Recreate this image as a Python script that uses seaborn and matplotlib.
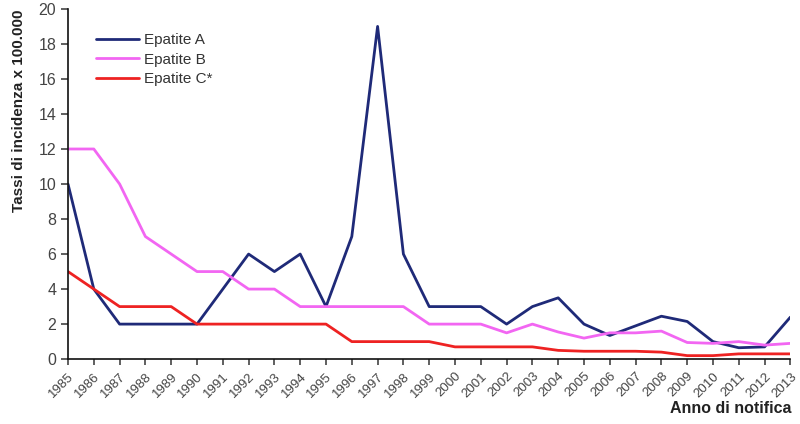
import matplotlib
matplotlib.use("Agg")
import matplotlib.pyplot as plt
import seaborn as sns
import pandas as pd

years = list(range(1985, 2014))
epatite_a = [10, 4, 2, 2, 2, 2, 4, 6, 5, 6, 3, 7, 19, 6, 3, 3, 3, 2, 3.0, 3.5,
             2, 1.35, 1.9, 2.45, 2.15, 1.0, 0.65, 0.7, 2.4]
epatite_b = [12, 12, 10, 7, 6, 5, 5, 4, 4, 3, 3, 3, 3, 3, 2, 2, 2, 1.5, 2.0, 1.55,
             1.2, 1.5, 1.5, 1.6, 0.95, 0.9, 1.0, 0.8, 0.9]
epatite_c = [5, 4, 3, 3, 3, 2, 2, 2, 2, 2, 2, 1, 1, 1, 1, 0.7, 0.7, 0.7, 0.7, 0.5,
             0.45, 0.45, 0.45, 0.4, 0.2, 0.2, 0.3, 0.3, 0.3]
series_names = ["Epatite A", "Epatite B", "Epatite C*"]
colors = ["#1f2a78", "#f266f2", "#ee2222"]

df = pd.DataFrame({
    "Anno": years * 3,
    "Tasso": epatite_a + epatite_b + epatite_c,
    "Serie": [series_names[0]] * len(years) + [series_names[1]] * len(years) + [series_names[2]] * len(years),
})

sns.set_style("ticks")
plt.rcParams["font.family"] = ["Liberation Sans", "DejaVu Sans"]

fig = plt.figure(figsize=(8, 4.24), dpi=100)
ax = fig.add_axes([0.085, 0.153, 0.903, 0.826])
sns.lineplot(data=df, x="Anno", y="Tasso", hue="Serie", palette=colors,
             linewidth=2, ax=ax, legend=True)

ax.set_xlim(1985, 2013)
ax.set_ylim(0, 20)
ax.set_yticks(range(0, 21, 2))
ax.set_xticks(years)
ax.set_xticklabels([str(y) for y in years], rotation=45, ha="right",
                   rotation_mode="anchor", fontsize=9.5, color="#444444")
ax.tick_params(axis="y", labelsize=11.5, colors="#444444", direction="out", length=5, width=1.2)
ax.tick_params(axis="x", direction="out", length=4, width=1.2, colors="#444444", pad=4)
sns.despine(ax=ax)
for s in ("left", "bottom"):
    ax.spines[s].set_linewidth(1.2)
    ax.spines[s].set_color("#111111")

ax.set_ylabel("Tassi di incidenza x 100.000", fontsize=11, fontweight="bold", color="#222222")
ax.yaxis.set_label_coords(-0.058, 0.709)
ax.set_xlabel("")
fig.text(0.99, 0.02, "Anno di notifica", ha="right", va="bottom",
         fontsize=11.5, fontweight="bold", color="#222222")

leg = ax.legend(loc="upper left", bbox_to_anchor=(0.02, 0.97), frameon=False,
                fontsize=11, handlelength=2.8, labelspacing=0.35, handletextpad=0.3)
for t in leg.get_texts():
    t.set_color("#333333")

fig.savefig("out.png", dpi=100)
